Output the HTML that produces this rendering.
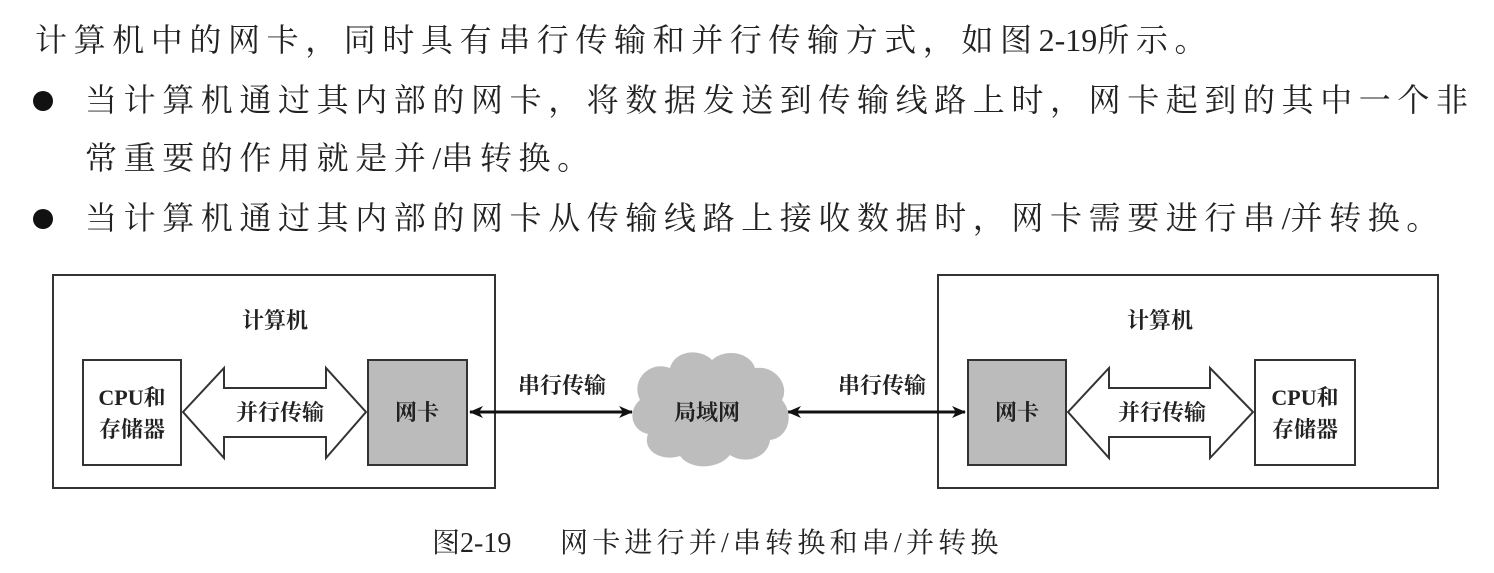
<!DOCTYPE html>
<html><head><meta charset="utf-8"><style>
body{margin:0;width:1494px;height:573px;background:#fff;overflow:hidden;position:relative;font-family:"Liberation Serif","Noto Serif CJK SC",serif;color:#222}
.t{position:absolute;font-size:32px;letter-spacing:6.6px;white-space:nowrap;line-height:40px}
.n{letter-spacing:0}
.b{position:absolute;width:20px;height:20px;border-radius:50%;background:#111}
</style></head><body>
<div class="t" style="left:35px;top:20px">计算机中的网卡，同时具有串行传输和并行传输方式，如图<span class="n">2-19</span>所示。</div>
<div class="b" style="left:33px;top:91px"></div>
<div class="t" style="left:85px;top:80px">当计算机通过其内部的网卡，将数据发送到传输线路上时，网卡起到的其中一个非</div>
<div class="t" style="left:85px;top:138px">常重要的作用就是并<span class="n">/</span>串转换。</div>
<div class="b" style="left:33px;top:209px"></div>
<div class="t" style="left:85px;top:198px">当计算机通过其内部的网卡从传输线路上接收数据时，网卡需要进行串<span class="n">/</span>并转换。</div>
<svg width="1494" height="573" style="position:absolute;left:0;top:0" font-family="Liberation Serif,Noto Serif CJK SC,serif" font-weight="bold" font-size="22">
<defs>
<marker id="a" markerWidth="14" markerHeight="12" refX="13" refY="6" orient="auto-start-reverse" markerUnits="userSpaceOnUse"><path d="M0,0 L14,6 L0,12 L4,6z" fill="#111"/></marker>
</defs>
<g stroke="#333" stroke-width="2" fill="none">
<rect x="53" y="275" width="442" height="213"/>
<rect x="938" y="275" width="500" height="213"/>
<rect x="83" y="360" width="98" height="105" fill="#fff"/>
<rect x="368" y="360" width="99" height="105" fill="#bbb"/>
<rect x="968" y="360" width="98" height="105" fill="#bbb"/>
<rect x="1255" y="360" width="100" height="105" fill="#fff"/>
<path d="M183,412 L224,368 L224,388 L326,388 L326,368 L366,412 L326,458 L326,437 L224,437 L224,458Z" fill="#fff"/>
<path d="M1068,412 L1109,368 L1109,388 L1210,388 L1210,368 L1253,412 L1210,458 L1210,437 L1109,437 L1109,458Z" fill="#fff"/>
<line x1="470" y1="412" x2="632" y2="412" stroke="#111" stroke-width="3" marker-start="url(#a)" marker-end="url(#a)"/>
<line x1="788" y1="412" x2="965" y2="412" stroke="#111" stroke-width="3" marker-start="url(#a)" marker-end="url(#a)"/>
</g>
<path d="M640,400 C630,380 650,360 670,368 C675,350 700,348 712,360 C725,348 750,352 755,368 C775,365 790,385 782,400 C795,415 788,438 770,440 C768,458 745,465 730,455 C718,470 690,470 680,456 C660,462 642,450 648,434 C630,430 628,410 640,400Z" fill="#bdbdbd"/>
<g fill="#222" text-anchor="middle">
<text x="275" y="328">计算机</text>
<text x="1160" y="328">计算机</text>
<text x="132" y="405">CPU和</text><text x="132" y="437">存储器</text>
<text x="1305" y="405">CPU和</text><text x="1305" y="437">存储器</text>
<text x="417" y="420">网卡</text><text x="1017" y="420">网卡</text>
<text x="280" y="420">并行传输</text><text x="1162" y="420">并行传输</text>
<text x="562" y="393">串行传输</text><text x="882" y="393">串行传输</text>
<text x="707" y="420">局域网</text>
</g>
<text x="432" y="552" font-weight="normal" font-size="28" fill="#222">图2-19</text>
<text x="560" y="552" font-weight="normal" font-size="28" letter-spacing="4.2" fill="#222">网卡进行并/串转换和串/并转换</text>
</svg>
</body></html>
